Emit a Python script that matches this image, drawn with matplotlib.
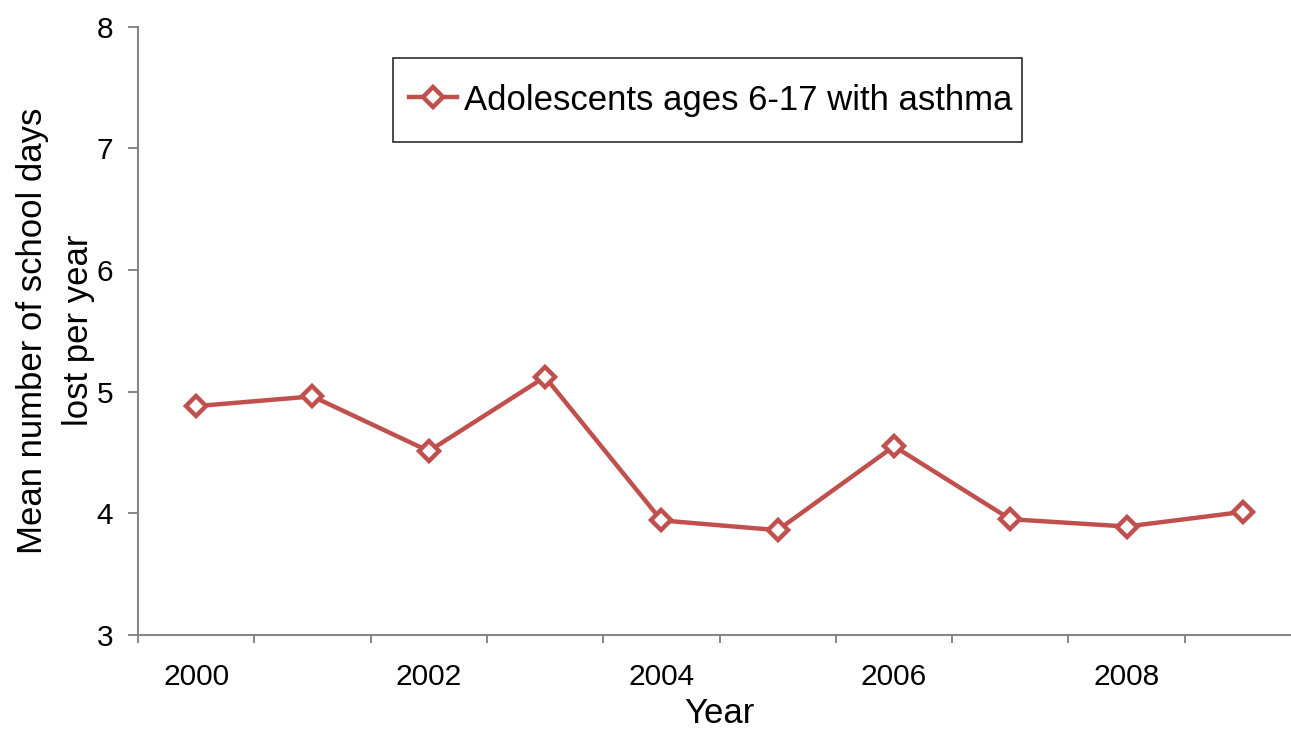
import matplotlib
matplotlib.use("Agg")
import matplotlib.pyplot as plt
from matplotlib.patches import Rectangle

# mean school days missed, children 6-17 with asthma
years = [2000, 2001, 2002, 2003, 2004, 2005, 2006, 2007, 2008, 2009]
days_lost = [4.88, 4.96, 4.51, 5.12, 3.94, 3.86, 4.55, 3.95, 3.89, 4.01]
year_labels = ["2000", "2002", "2004", "2006", "2008"]
series_name = "Adolescents ages 6-17 with asthma"

plt.rcParams['font.family'] = ['Liberation Sans', 'DejaVu Sans']

red = '#C0504D'
grey = '#868686'

fig = plt.figure(figsize=(12.91, 7.30), dpi=100)
ax = fig.add_axes([0.1069, 0.1305, 0.9009, 0.8329])

x = list(range(len(years)))
ax.plot(x, days_lost, color=red, linewidth=3.2, marker='D', markersize=10.5,
        markerfacecolor='white', markeredgecolor=red, markeredgewidth=3.2,
        label=series_name)

ax.set_xlim(-0.5, len(years) - 0.5)
ax.set_ylim(3, 8)
ax.set_yticks([3, 4, 5, 6, 7, 8])

# labels on every other category, tick marks between categories
ax.set_xticks(x[::2])
ax.set_xticklabels(year_labels)
ax.set_xticks([i - 0.5 for i in range(len(years) + 1)], minor=True)
ax.tick_params(axis='x', which='major', length=0, pad=20, labelsize=21.5)
ax.tick_params(axis='x', which='minor', length=6, width=1.4, color=grey)
ax.tick_params(axis='y', length=7, width=1.4, color=grey, pad=11, labelsize=21.5)

for side in ['top', 'right']:
    ax.spines[side].set_visible(False)
for side in ['left', 'bottom']:
    ax.spines[side].set_color(grey)
    ax.spines[side].set_linewidth(1.5)

ax.set_xlabel("Year", fontsize=25, labelpad=5)
ax.set_ylabel("Mean number of school days\nlost per year", fontsize=25,
              labelpad=1, linespacing=1.5)

# legend without its own frame, boxed by a plain rectangle
leg = ax.legend(loc='center left', bbox_to_anchor=(0.233, 0.8794), fontsize=25,
                frameon=False, borderpad=0, borderaxespad=0,
                handlelength=1.38, handletextpad=0.2)
box = Rectangle((0.2193, 0.8104), 0.5408, 0.1382, transform=ax.transAxes,
                fill=False, edgecolor='#1a1a1a', linewidth=1.1, zorder=5)
ax.add_patch(box)

fig.savefig("out.png", dpi=100)
